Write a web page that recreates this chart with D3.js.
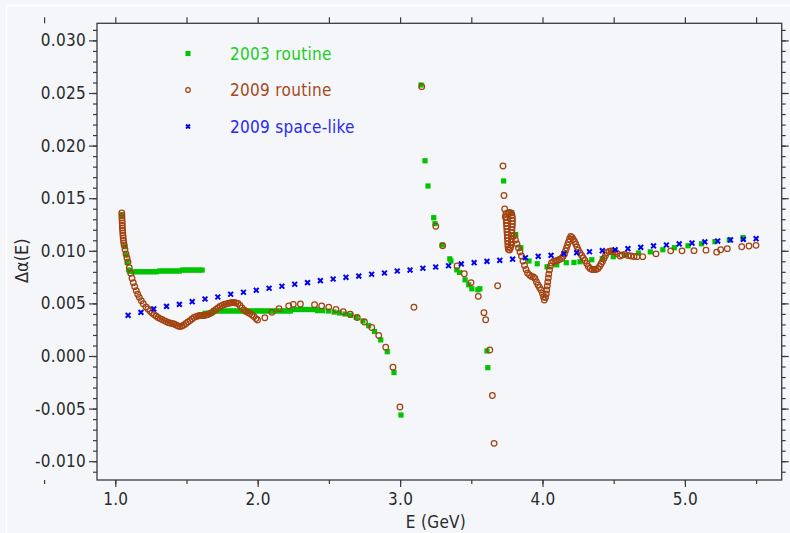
<!DOCTYPE html>
<html>
<head>
<meta charset="utf-8">
<script src="https://cdn.jsdelivr.net/npm/d3@7"></script>
<style>
  html, body { margin: 0; padding: 0; background: #f4f6fa; }
  svg { display: block; }
  text { font-family: "DejaVu Sans Condensed", "DejaVu Sans", sans-serif; }
</style>
</head>
<body>
<svg id="chart" width="790" height="533"></svg>
<script>
// Δα(E) versus centre-of-mass energy E (GeV), three determinations.

// 2003 routine: [E (GeV), Δα]
const routine2003 = [
  [1.047,0.01340],[1.068,0.01039],[1.077,0.00960],[1.084,0.00887],[1.094,0.00818],[1.105,0.00805],
  [1.13,0.00801],[1.15,0.00801],[1.17,0.00801],[1.19,0.00801],[1.21,0.00801],[1.23,0.00801],[1.25,0.00801],[1.27,0.00801],[1.29,0.00801],
  [1.31,0.00808],[1.33,0.00808],[1.35,0.00808],[1.37,0.00808],[1.39,0.00808],[1.41,0.00808],[1.43,0.00808],[1.45,0.00808],
  [1.47,0.00817],[1.49,0.00817],[1.51,0.00817],[1.53,0.00817],[1.55,0.00817],[1.57,0.00817],[1.59,0.00817],[1.61,0.00817],
  [1.63,0.00406],[1.65,0.00406],[1.67,0.00406],
  [1.69,0.00428],[1.71,0.00428],[1.73,0.00428],[1.75,0.00428],[1.77,0.00428],[1.79,0.00428],[1.81,0.00428],
  [1.83,0.00428],[1.85,0.00428],[1.87,0.00428],[1.89,0.00428],[1.91,0.00428],[1.93,0.00428],[1.95,0.00428],
  [1.97,0.00428],[1.99,0.00428],[2.01,0.00428],[2.03,0.00428],[2.05,0.00428],[2.07,0.00428],[2.09,0.00428],
  [2.11,0.00428],[2.13,0.00428],[2.15,0.00428],[2.17,0.00428],[2.19,0.00428],[2.21,0.00428],[2.23,0.00428],
  [2.25,0.00442],[2.27,0.00442],[2.29,0.00442],[2.31,0.00442],[2.33,0.00442],[2.35,0.00442],[2.37,0.00442],[2.39,0.00442],[2.41,0.00442],
  [2.421,0.00431],[2.456,0.00431],[2.496,0.00428],[2.536,0.00418],[2.573,0.00409],[2.613,0.00399],
  [2.653,0.00387],[2.692,0.00368],[2.739,0.00333],[2.779,0.00288],[2.821,0.00233],[2.864,0.00153],
  [2.910,0.00041],[2.957,-0.00157],[3.006,-0.00561],
  [3.147,0.02576],[3.175,0.01856],[3.196,0.01616],[3.236,0.01315],[3.245,0.01258],[3.296,0.01055],
  [3.349,0.00924],[3.357,0.00903],[3.398,0.00819],[3.417,0.00794],[3.456,0.00724],[3.482,0.00677],
  [3.504,0.00639],[3.546,0.00629],[3.560,0.00639],[3.610,0.00048],[3.616,-0.00111],
  [3.727,0.01664],[3.784,0.01362],[3.812,0.01155],[3.848,0.01029],[3.905,0.00903],[3.963,0.00877],
  [4.032,0.00848],[4.100,0.00867],[4.167,0.00887],[4.221,0.00889],[4.263,0.00896],[4.346,0.00915],
  [4.420,0.00925],[4.497,0.00944],[4.577,0.00957],[4.674,0.00979],[4.757,0.00990],[4.845,0.01010],
  [4.926,0.01029],[5.022,0.01048],[5.117,0.01067],[5.211,0.01087],[5.312,0.01103],[5.408,0.01126]
];

// 2009 routine: [E (GeV), Δα]
const routine2009 = [
  [1.0456,0.01359],[1.0463,0.01336],[1.0470,0.01312],[1.0478,0.01288],[1.0485,0.01264],[1.0492,0.01241],
  [1.0499,0.01217],[1.0513,0.01193],[1.0527,0.01169],[1.0541,0.01145],[1.0555,0.01122],[1.0576,0.01098],
  [1.0597,0.01074],[1.0625,0.01050],
  [1.0681,0.01012],[1.0751,0.00970],[1.0822,0.00932],[1.0892,0.00894],[1.0983,0.00839],[1.1081,0.00786],
  [1.1173,0.00739],[1.1264,0.00697],[1.1362,0.00659],[1.1475,0.00621],[1.1573,0.00587],[1.1685,0.00558],
  [1.1826,0.00526],[1.1966,0.00497],[1.2156,0.00466],
  [1.2296,0.00447],[1.2437,0.00428],[1.2577,0.00409],[1.2718,0.00394],[1.2858,0.00380],[1.2999,0.00366],
  [1.3139,0.00356],[1.3279,0.00347],[1.3420,0.00337],[1.3560,0.00328],[1.3701,0.00318],[1.3841,0.00314],
  [1.3982,0.00309],[1.4122,0.00304],[1.4263,0.00295],[1.4403,0.00285],[1.4544,0.00280],[1.4684,0.00285],
  [1.4824,0.00295],[1.4965,0.00309],[1.5105,0.00323],[1.5246,0.00337],[1.5386,0.00352],[1.5527,0.00366],
  [1.5667,0.00375],[1.5808,0.00380],[1.5948,0.00385],[1.6088,0.00385],[1.6229,0.00385],[1.6369,0.00390],
  [1.6510,0.00394],[1.6650,0.00404],[1.6791,0.00414],[1.6931,0.00428],[1.7072,0.00442],[1.7212,0.00456],
  [1.7353,0.00471],[1.7493,0.00480],[1.7633,0.00490],[1.7774,0.00494],[1.7914,0.00499],[1.8055,0.00504],
  [1.8195,0.00509],[1.8336,0.00509],[1.8476,0.00504],[1.8617,0.00499],[1.8757,0.00480],[1.8897,0.00456],
  [1.9038,0.00437],[1.9178,0.00423],[1.9319,0.00414],[1.9459,0.00404],[1.9600,0.00390],[1.9740,0.00375],
  [1.9881,0.00356],[1.9986,0.00342],
  [2.050,0.00364],[2.100,0.00415],[2.150,0.00450],[2.218,0.00477],[2.250,0.00491],[2.300,0.00494],
  [2.399,0.00487],[2.449,0.00477],[2.499,0.00463],[2.550,0.00442],[2.601,0.00421],[2.650,0.00397],
  [2.699,0.00366],[2.750,0.00323],[2.801,0.00271],[2.850,0.00195],[2.899,0.00084],[2.950,-0.00106],
  [2.999,-0.00485],
  [3.097,0.00463],[3.152,0.02560],[3.251,0.01233],[3.299,0.01048],[3.400,0.00856],[3.451,0.00782],
  [3.498,0.00697],[3.549,0.00567],[3.589,0.00412],[3.601,0.00345],[3.630,0.00057],[3.648,-0.00375],
  [3.660,-0.00830],[3.685,0.00668],
  [3.7226,0.01806],[3.7296,0.01526],[3.7346,0.01397],[3.7388,0.01324],
  [3.7437,0.01354],[3.7437,0.01321],[3.7451,0.01293],[3.7465,0.01264],[3.7479,0.01236],[3.7493,0.01207],
  [3.7507,0.01179],[3.7521,0.01150],[3.7535,0.01122],[3.7549,0.01093],[3.7563,0.01065],[3.7577,0.01036],
  [3.7612,0.01012],[3.7683,0.01008],[3.7753,0.01027],
  [3.7788,0.01055],[3.7802,0.01084],[3.7816,0.01112],[3.7830,0.01141],[3.7844,0.01169],[3.7858,0.01198],
  [3.7872,0.01226],[3.7886,0.01255],[3.7893,0.01283],[3.7893,0.01312],[3.7858,0.01340],[3.7788,0.01359],
  [3.7683,0.01364],[3.7577,0.01359],
  [3.7998,0.01141],[3.8104,0.01103],[3.8209,0.01065],[3.8315,0.01027],[3.8420,0.00989],[3.8525,0.00951],
  [3.8631,0.00903],[3.8736,0.00860],[3.8841,0.00822],[3.8947,0.00789],[3.9087,0.00770],[3.9228,0.00756],
  [3.9368,0.00751],[3.9473,0.00737],[3.9579,0.00703],[3.9684,0.00675],[3.9789,0.00651],[3.9895,0.00627],
  [4.0000,0.00594],[4.0070,0.00561],[4.0126,0.00532],[4.0211,0.00556],[4.0267,0.00589],[4.0302,0.00627],
  [4.0337,0.00665],[4.0372,0.00703],[4.0407,0.00741],[4.0442,0.00779],[4.0492,0.00817],[4.0562,0.00856],
  [4.0632,0.00884],[4.0772,0.00898],[4.0913,0.00903],[4.1053,0.00908],[4.1194,0.00917],[4.1334,0.00927],
  [4.1440,0.00946],[4.1545,0.00970],[4.1615,0.00998],[4.1685,0.01027],[4.1756,0.01055],[4.1826,0.01084],
  [4.1896,0.01112],[4.1980,0.01136],[4.2072,0.01126],[4.2163,0.01107],[4.2247,0.01088],[4.2331,0.01065],
  [4.2423,0.01036],[4.2514,0.01008],[4.2633,0.00979],[4.2753,0.00955],[4.2865,0.00932],[4.2984,0.00908],
  [4.3104,0.00879],[4.3216,0.00851],[4.3336,0.00832],[4.3476,0.00822],[4.3617,0.00822],[4.3757,0.00822],
  [4.3898,0.00832],[4.4003,0.00851],[4.4108,0.00875],[4.4214,0.00898],[4.4319,0.00927],[4.4424,0.00955],
  [4.4530,0.00984],[4.4670,0.00993],[4.4811,0.00998],[4.4951,0.00993],[4.5091,0.00989],[4.5232,0.00974],
  [4.5443,0.00951],[4.5583,0.00960],[4.5794,0.00965],[4.6004,0.00955],[4.6215,0.00951],[4.6425,0.00946],
  [4.6636,0.00944],[4.7037,0.00944],[4.7971,0.00971],[4.9003,0.01000],[4.9796,0.01000],[5.0639,0.01001],
  [5.1482,0.01006],[5.2233,0.00987],[5.2514,0.01010],[5.2978,0.01020],[5.3989,0.01039],[5.4501,0.01046],
  [5.4993,0.01052]
];

// 2009 space-like: energies (GeV) and Δα
const spaceLikeE = [
  1.09,1.18,1.27,1.36,1.45,1.54,1.63,1.72,1.81,1.90,1.99,2.08,2.17,2.26,2.35,2.44,2.53,
  2.62,2.71,2.80,2.89,2.98,3.07,3.16,3.25,3.34,3.43,3.52,3.61,3.70,3.79,3.88,3.97,4.06,
  4.15,4.24,4.33,4.42,4.51,4.60,4.69,4.78,4.87,4.96,5.05,5.14,5.23,5.32,5.41,5.50
];
const spaceLikeV = [
  0.00387,0.00415,0.00447,0.00472,0.00491,0.00516,0.00542,0.00561,0.00587,0.00606,0.00625,
  0.00644,0.00663,0.00682,0.00697,0.00716,0.00732,0.00748,0.00760,0.00777,0.00789,0.00808,
  0.00817,0.00834,0.00846,0.00858,0.00875,0.00887,0.00900,0.00910,0.00920,0.00934,0.00948,
  0.00957,0.00972,0.00982,0.00991,0.01001,0.01010,0.01020,0.01033,0.01046,0.01055,0.01065,
  0.01074,0.01084,0.01093,0.01103,0.01109,0.01115
];

const xTickValues = [1, 2, 3, 4, 5];
const yTickValues = [-0.010, -0.005, 0.000, 0.005, 0.010, 0.015, 0.020, 0.025, 0.030];
const legendLabels = ["2003 routine", "2009 routine", "2009 space-like"];

const colors = {
  green: "#00c400", greenText: "#22cc22",
  brown: "#a2420f", brownText: "#a44a1c",
  blue: "#0000ee", blueText: "#2a2aee",
  axis: "#3a3a3a", text: "#2a2a2a"
};

const svg = d3.select("#chart");
const plot = { left: 97, right: 781.7, top: 23.3, bottom: 480 };

const x = d3.scaleLinear().domain([0.8715, 5.6798]).range([plot.left, plot.right]);
const y = d3.scaleLinear().domain([0.031626, -0.011787]).range([plot.top, plot.bottom]);

// page border line
svg.append("rect")
  .attr("x", 6.5).attr("y", 5.5).attr("width", 800).attr("height", 540)
  .attr("fill", "none").attr("stroke", "#ffffff").attr("stroke-width", 1.5);

const fmtY = v => d3.format(".3f")(v).replace("\u2212", "-");
const fmtX = d3.format(".1f");

const minorY = d3.range(-11, 32).map(k => k / 1000);
const minorX = d3.range(1, 11.5).map(k => k / 2);

function styleAxis(g) {
  g.select(".domain").remove();
  g.selectAll("line").attr("stroke", colors.axis).attr("stroke-width", 1.2);
  g.selectAll("text").attr("fill", colors.text).style("font-size", "17px").style("letter-spacing", "0.3px");
}

// left axis
svg.append("g").attr("transform", `translate(${plot.left},0)`)
  .call(d3.axisLeft(y).tickValues(minorY).tickSize(4).tickFormat(""))
  .call(styleAxis);
svg.append("g").attr("transform", `translate(${plot.left},0)`)
  .call(d3.axisLeft(y).tickValues(yTickValues).tickSize(8).tickPadding(3).tickFormat(fmtY))
  .call(styleAxis);

// right axis
svg.append("g").attr("transform", `translate(${plot.right},0)`)
  .call(d3.axisRight(y).tickValues(minorY).tickSize(4).tickFormat(""))
  .call(styleAxis);
svg.append("g").attr("transform", `translate(${plot.right},0)`)
  .call(d3.axisRight(y).tickValues(yTickValues).tickSize(7).tickFormat(""))
  .call(styleAxis);

// bottom axis
svg.append("g").attr("transform", `translate(0,${plot.bottom})`)
  .call(d3.axisBottom(x).tickValues(minorX).tickSize(4).tickFormat(""))
  .call(styleAxis);
svg.append("g").attr("transform", `translate(0,${plot.bottom})`)
  .call(d3.axisBottom(x).tickValues(xTickValues).tickSize(7).tickPadding(6).tickFormat(fmtX))
  .call(styleAxis);

// top axis
svg.append("g").attr("transform", `translate(0,${plot.top})`)
  .call(d3.axisTop(x).tickValues(minorX).tickSize(6).tickFormat(""))
  .call(styleAxis);

// frame
svg.append("rect")
  .attr("x", plot.left).attr("y", plot.top)
  .attr("width", plot.right - plot.left).attr("height", plot.bottom - plot.top)
  .attr("fill", "none").attr("stroke", colors.axis).attr("stroke-width", 1.3);

// axis titles
svg.append("text")
  .attr("transform", `translate(28,${(plot.top + plot.bottom) / 2 + 9}) rotate(-90)`)
  .attr("text-anchor", "middle").attr("fill", colors.text)
  .style("font-size", "18px").text("\u0394\u03b1(E)");
svg.append("text")
  .attr("x", 436).attr("y", 528)
  .attr("text-anchor", "middle").attr("fill", colors.text)
  .style("font-size", "17px").style("letter-spacing", "0.3px").text("E (GeV)");

const marks = svg.append("g");

// 2003 routine: filled squares
marks.append("g").selectAll("rect").data(routine2003).join("rect")
  .attr("x", d => x(d[0]) - 2.6).attr("y", d => y(d[1]) - 2.6)
  .attr("width", 5.2).attr("height", 5.2)
  .attr("fill", colors.green);

// 2009 routine: open circles
marks.append("g").selectAll("circle").data(routine2009).join("circle")
  .attr("cx", d => x(d[0])).attr("cy", d => y(d[1])).attr("r", 2.8)
  .attr("fill", "none").attr("stroke", colors.brown).attr("stroke-width", 1.25);

// 2009 space-like: crosses
const crossPath = s => `M${-s},${-s}L${s},${s}M${-s},${s}L${s},${-s}`;
marks.append("g").selectAll("path").data(d3.zip(spaceLikeE, spaceLikeV)).join("path")
  .attr("transform", d => `translate(${x(d[0])},${y(d[1])})`)
  .attr("d", crossPath(2.4))
  .attr("fill", "none").attr("stroke", colors.blue).attr("stroke-width", 2);

// legend
const legend = svg.append("g");
const legendRows = [
  { label: legendLabels[0], color: colors.green, text: colors.greenText, kind: "square" },
  { label: legendLabels[1], color: colors.brown, text: colors.brownText, kind: "circle" },
  { label: legendLabels[2], color: colors.blue, text: colors.blueText, kind: "cross" }
];
legendRows.forEach((r, i) => {
  const cy = 53.5 + i * 36.5;
  if (r.kind === "square") {
    legend.append("rect").attr("x", 185.5).attr("y", cy - 2.5).attr("width", 5).attr("height", 5).attr("fill", r.color);
  } else if (r.kind === "circle") {
    legend.append("circle").attr("cx", 188).attr("cy", cy).attr("r", 2.3)
      .attr("fill", "none").attr("stroke", r.color).attr("stroke-width", 1.2);
  } else {
    legend.append("path").attr("transform", `translate(188,${cy})`).attr("d", crossPath(2))
      .attr("stroke", r.color).attr("stroke-width", 1.8);
  }
  legend.append("text").attr("x", 230).attr("y", cy + 6)
    .attr("fill", r.text).style("font-size", "17px").style("letter-spacing", "0.3px").text(r.label);
});
</script>
</body>
</html>
